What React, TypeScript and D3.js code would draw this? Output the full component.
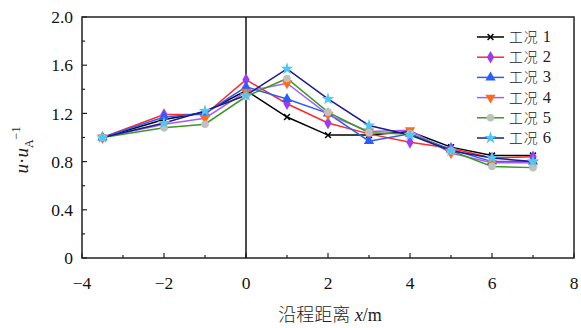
import { useEffect, useRef } from 'react'
import * as d3 from 'd3'

const W = 581
const H = 328

const xs = [-3.5, -2, -1, 0, 1, 2, 3, 4, 5, 6, 7]

const s1 = [1.0, 1.15, 1.21, 1.39, 1.17, 1.02, 1.02, 1.05, 0.92, 0.85, 0.85]
const s2 = [1.0, 1.19, 1.19, 1.48, 1.28, 1.12, 1.03, 0.96, 0.91, 0.83, 0.84]
const s3 = [1.0, 1.17, 1.20, 1.42, 1.32, 1.20, 0.97, 1.03, 0.90, 0.80, 0.80]
const s4 = [1.0, 1.11, 1.16, 1.38, 1.45, 1.19, 1.05, 1.06, 0.87, 0.79, 0.79]
const s5 = [1.0, 1.08, 1.11, 1.34, 1.49, 1.21, 1.04, 1.03, 0.89, 0.76, 0.75]
const s6 = [1.0, 1.12, 1.22, 1.35, 1.57, 1.32, 1.10, 1.02, 0.89, 0.83, 0.80]

const labels = ['工况 1', '工况 2', '工况 3', '工况 4', '工况 5', '工况 6']

const xTicks = [-4, -2, 0, 2, 4, 6, 8]
const yTicks = [0, 0.4, 0.8, 1.2, 1.6, 2.0]

type Def = { vals: number[]; line: string; fill: string; sym: d3.SymbolType; rot: number; size: number; stroke?: boolean }

const defs: Def[] = [
  { vals: s1, line: '#000000', fill: '#000000', sym: d3.symbolX, rot: 0, size: 24, stroke: true },
  { vals: s2, line: '#ff2a2a', fill: '#9b3cf5', sym: d3.symbolDiamond, rot: 0, size: 46 },
  { vals: s3, line: '#2a5cff', fill: '#2a5cff', sym: d3.symbolTriangle, rot: 0, size: 46 },
  { vals: s4, line: '#a45cff', fill: '#ff6a1a', sym: d3.symbolTriangle, rot: 180, size: 46 },
  { vals: s5, line: '#3c9a22', fill: '#c0c0c0', sym: d3.symbolCircle, rot: 0, size: 46 },
  { vals: s6, line: '#1c1c8a', fill: '#4cc8f2', sym: d3.symbolStar, rot: 0, size: 50 },
]

export default function App() {
  const ref = useRef<SVGSVGElement>(null)

  useEffect(() => {
    const svg = d3.select(ref.current!)
    svg.selectAll('*').remove()

    const m = { left: 82, right: 574, top: 17, bottom: 258 }
    const x = d3.scaleLinear().domain([-4, 8]).range([m.left, m.right])
    const y = d3.scaleLinear().domain([0, 2]).range([m.bottom, m.top])
    const serif = '"Liberation Serif", "Times New Roman", serif'
    const cjk = '"Noto Sans CJK SC", sans-serif'

    // frame
    svg.append('rect')
      .attr('x', m.left).attr('y', m.top)
      .attr('width', m.right - m.left).attr('height', m.bottom - m.top)
      .attr('fill', 'none').attr('stroke', '#222').attr('stroke-width', 1.5)

    // ticks, pointing inward
    const minorX = d3.range(-3, 8, 2)
    xTicks.forEach(t => {
      svg.append('line').attr('x1', x(t)).attr('x2', x(t)).attr('y1', m.bottom).attr('y2', m.bottom - 5)
        .attr('stroke', '#222').attr('stroke-width', 1.2)
      svg.append('text').attr('x', x(t)).attr('y', m.bottom + 31)
        .attr('text-anchor', 'middle').attr('font-family', serif).attr('font-size', 17.5).attr('fill', '#111')
        .text(t < 0 ? `\u2212${Math.abs(t)}` : `${t}`)
    })
    minorX.forEach(t => {
      svg.append('line').attr('x1', x(t)).attr('x2', x(t)).attr('y1', m.bottom).attr('y2', m.bottom - 3)
        .attr('stroke', '#222').attr('stroke-width', 1.2)
    })
    yTicks.forEach(t => {
      svg.append('line').attr('x1', m.left).attr('x2', m.left + 5).attr('y1', y(t)).attr('y2', y(t))
        .attr('stroke', '#222').attr('stroke-width', 1.2)
      svg.append('text').attr('x', m.left - 9).attr('y', y(t)).attr('dy', '0.35em')
        .attr('text-anchor', 'end').attr('font-family', serif).attr('font-size', 17.5).attr('fill', '#111')
        .text(t === 0 ? '0' : t.toFixed(1))
    })
    d3.range(0.2, 2, 0.4).forEach(t => {
      svg.append('line').attr('x1', m.left).attr('x2', m.left + 3).attr('y1', y(t)).attr('y2', y(t))
        .attr('stroke', '#222').attr('stroke-width', 1.2)
    })

    // x = 0 reference line
    svg.append('line').attr('x1', x(0)).attr('x2', x(0)).attr('y1', m.top).attr('y2', m.bottom)
      .attr('stroke', '#111').attr('stroke-width', 1.5)

    // series
    const line = d3.line<number>().x((_, i) => x(xs[i])).y(d => y(d))
    defs.forEach(s => {
      svg.append('path').datum(s.vals).attr('d', line)
        .attr('fill', 'none').attr('stroke', s.line).attr('stroke-width', 1.5)
    })
    defs.forEach(s => {
      const sym = d3.symbol(s.sym, s.size)
      s.vals.forEach((v, i) => {
        svg.append('path').attr('d', sym())
          .attr('transform', `translate(${x(xs[i])},${y(v)}) rotate(${s.rot})`)
          .attr('fill', s.stroke ? 'none' : s.fill)
          .attr('stroke', s.stroke ? s.fill : 'none').attr('stroke-width', 1.5)
      })
    })

    // legend
    defs.forEach((s, i) => {
      const ly = 37 + i * 20.2
      const g = svg.append('g')
      g.append('line').attr('x1', 477).attr('x2', 504).attr('y1', ly).attr('y2', ly)
        .attr('stroke', s.line).attr('stroke-width', 1.5)
      g.append('path').attr('d', d3.symbol(s.sym, s.size)())
        .attr('transform', `translate(490.5,${ly}) rotate(${s.rot})`)
        .attr('fill', s.stroke ? 'none' : s.fill)
        .attr('stroke', s.stroke ? s.fill : 'none').attr('stroke-width', 1.5)
      const [a, b] = labels[i].split(' ')
      const t = g.append('text').attr('x', 509).attr('y', ly).attr('dy', '0.36em')
        .attr('font-size', 13.8).attr('fill', '#222')
      t.append('tspan').attr('font-family', cjk).attr('font-weight', 300).attr('letter-spacing', 1).text(a)
      t.append('tspan').attr('font-family', serif).attr('font-size', 16.5).text(' ' + b)
    })

    // axis titles
    const xt = svg.append('text').attr('x', 330).attr('y', 321).attr('text-anchor', 'middle')
      .attr('font-size', 18).attr('fill', '#222')
    xt.append('tspan').attr('font-family', cjk).attr('font-weight', 300).text('沿程距离')
    xt.append('tspan').attr('font-family', serif).attr('font-style', 'italic').text(' x')
    xt.append('tspan').attr('font-family', serif).text('/m')

    const yt = svg.append('text').attr('transform', 'translate(28,150) rotate(-90)')
      .attr('text-anchor', 'middle').attr('font-family', serif).attr('font-size', 19).attr('fill', '#222')
    yt.append('tspan').attr('font-style', 'italic').text('u')
    yt.append('tspan').text('·')
    yt.append('tspan').attr('font-style', 'italic').text('u')
    yt.append('tspan').attr('font-size', 12).attr('dy', 5).text('A')
    yt.append('tspan').attr('font-size', 12).attr('dy', -13).text('\u22121')
  }, [])

  return (
    <svg ref={ref} width={W} height={H}
      style={{ position: 'absolute', left: 0, top: 0, background: '#fff', display: 'block' }} />
  )
}
